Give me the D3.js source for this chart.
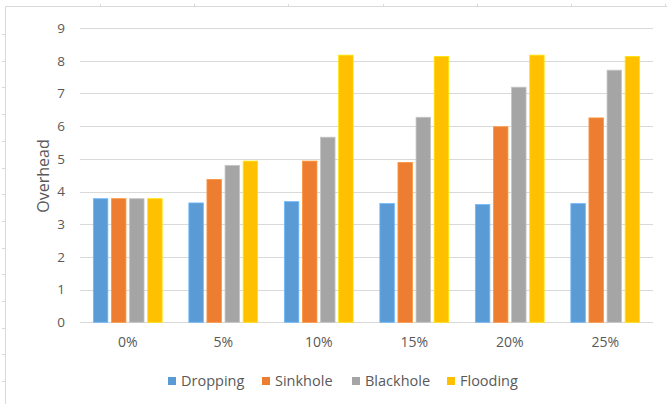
<!DOCTYPE html>
<html><head><meta charset="utf-8">
<script src="https://cdn.jsdelivr.net/npm/d3@7"></script>
<style>body{margin:0;background:#fff}svg{display:block}text{font-family:"Open Sans","Liberation Sans",sans-serif}</style>
</head><body><svg id="c" width="667" height="404"></svg>
<script>
const categories = ["0%","5%","10%","15%","20%","25%"];
const seriesNames = ["Dropping","Sinkhole","Blackhole","Flooding"];
const dropping  = [3.78,3.65,3.69,3.63,3.60,3.63];
const sinkhole  = [3.78,4.37,4.93,4.89,5.98,6.25];
const blackhole = [3.78,4.80,5.66,6.27,7.19,7.71];
const flooding  = [3.78,4.93,8.17,8.13,8.17,8.13];
const yTicks = [0,1,2,3,4,5,6,7,8,9];
const colors = ["#5B9BD5","#ED7D31","#A5A5A5","#FFC000"];
const values = [dropping,sinkhole,blackhole,flooding];

const svg = d3.select("#c");
// page frame lines
const frame = svg.append("g").attr("stroke","#d9d9d9").attr("stroke-width",1);
frame.append("line").attr("x1",5.5).attr("x2",667).attr("y1",6.5).attr("y2",6.5);
frame.append("line").attr("x1",5.5).attr("x2",5.5).attr("y1",6.5).attr("y2",404);
d3.range(100,667,94.2).forEach(x=>frame.append("line").attr("x1",Math.round(x)+0.5).attr("x2",Math.round(x)+0.5).attr("y1",4).attr("y2",6.5));
d3.range(34,404,26.7).forEach(y=>frame.append("line").attr("x1",2).attr("x2",5.5).attr("y1",Math.round(y)+0.5).attr("y2",Math.round(y)+0.5));

const x0 = d3.scaleBand().domain(categories).range([80,653]).paddingInner(0).paddingOuter(0);
const y = d3.scaleLinear().domain([0,9]).range([322.3,28]);
const x1 = d3.scaleBand().domain(seriesNames).range([0,68.8]).paddingInner(0.2).paddingOuter(0);

// gridlines
svg.append("g").selectAll("line").data(yTicks).join("line")
  .attr("x1",80).attr("x2",653)
  .attr("y1",d=>Math.round(y(d))+0.5).attr("y2",d=>Math.round(y(d))+0.5)
  .attr("stroke","#d9d9d9").attr("stroke-width",1);

// y axis labels
const yAxis = d3.axisLeft(y).tickValues(yTicks).tickSize(0).tickPadding(0);
const ya = svg.append("g").attr("transform","translate(65,0)").call(yAxis);
ya.select(".domain").remove();
ya.selectAll("text").attr("font-size",13.5).attr("fill","#595959");

// x axis labels
const xAxis = d3.axisBottom(x0).tickSize(0).tickPadding(0);
const xa = svg.append("g").attr("transform","translate(0,337)").call(xAxis);
xa.select(".domain").remove();
xa.selectAll("text").attr("font-size",14).attr("fill","#595959").attr("dy","0.71em");

// bars
const groups = svg.append("g").selectAll("g").data(categories).join("g")
  .attr("transform",c=>`translate(${x0(c)+x0.bandwidth()/2-34.4},0)`);
groups.selectAll("rect").data((c,i)=>seriesNames.map((s,j)=>({s,j,v:values[j][i]}))).join("rect")
  .attr("x",d=>x1(d.s)).attr("width",x1.bandwidth())
  .attr("y",d=>y(d.v)).attr("height",d=>y(0)-y(d.v))
  .attr("fill",d=>colors[d.j])
  .attr("stroke",d=>d3.color(colors[d.j]).brighter(0.5)).attr("stroke-width",0.8);

// y title
svg.append("text").attr("transform","translate(49,176) rotate(-90)")
  .attr("text-anchor","middle").attr("font-size",16).attr("fill","#595959").text("Overhead");

// legend
const legX = [168,262,352,447];
const leg = svg.append("g").selectAll("g").data(seriesNames).join("g")
  .attr("transform",(d,i)=>`translate(${legX[i]},381)`);
leg.append("rect").attr("x",0).attr("y",-4).attr("width",8).attr("height",8).attr("fill",(d,i)=>colors[i]);
leg.append("text").attr("x",13).attr("y",0).attr("dy","0.35em").attr("font-size",14.5).attr("fill","#595959").text(d=>d);
</script></body></html>
